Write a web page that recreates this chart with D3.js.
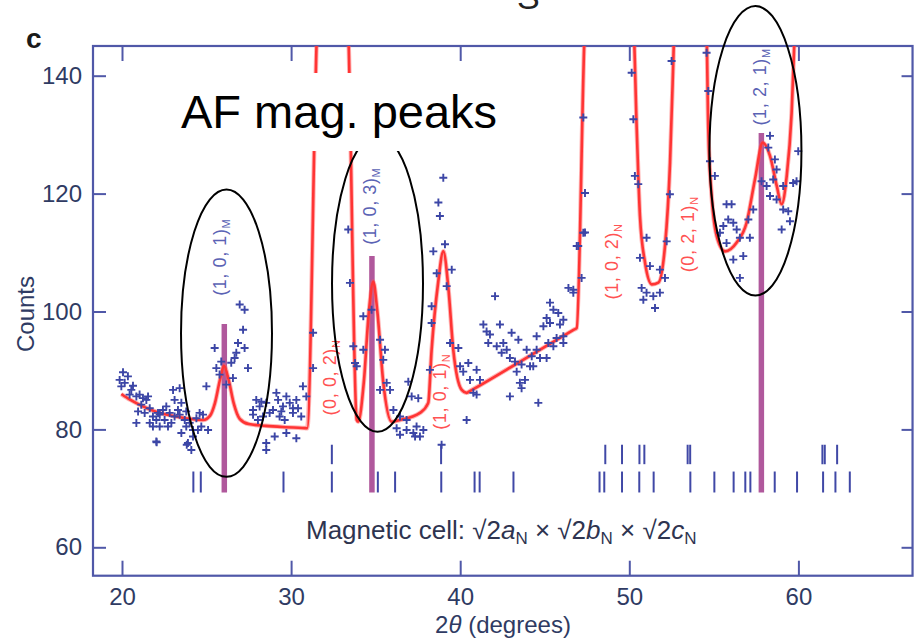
<!DOCTYPE html>
<html><head><meta charset="utf-8">
<script src="https://cdn.jsdelivr.net/npm/d3@7"></script>
<style>body{margin:0;background:#fff}svg{display:block}</style>
</head><body>
<svg id="c" width="914" height="642"></svg>
<script>
// ---------- data ----------
const xTickValues = [20, 30, 40, 50, 60];
const yTickValues = [60, 80, 100, 120, 140];

// observed counts (blue +)
const obsX = [20.06,20.35,19.86,20.16,19.96,20.55,20.45,20.85,21.24,21.44,21.14,21.64,20.95,21.34,21.83,22.03,21.64,20.85,22.23,22.72,21.83,22.42,22.82,23.02,23.41,23.11,23.51,23.31,22.62,22.13,23.71,23.51,24.0,24.2,24.59,24.79,24.99,25.09,24.49,23.9,24.1,22.03,23.11,
20.65,21.04,21.54,22.23,22.52,22.92,23.41,23.8,24.4,24.69,23.8,24.2,
25.48,25.87,25.58,26.66,26.76,26.86,27.25,27.16,27.25,26.96,27.45,26.56,26.17,26.46,25.77,
27.94,27.75,28.14,28.34,28.53,28.93,29.13,29.23,29.32,29.52,29.72,29.92,30.11,30.31,30.7,30.9,30.6,29.03,28.53,28.53,29.72,30.31,31.3,31.3,22.05,23.83,37.33,
27.75,28.04,28.73,29.42,30.11,30.41,29.62,28.24,
33.38,33.48,33.68,33.88,33.78,34.27,34.27,34.76,35.26,35.45,35.55,35.65,35.85,35.26,36.05,36.44,36.83,36.93,37.13,37.52,37.42,37.82,37.62,36.44,36.83,37.23,36.24,
38.21,38.31,38.31,38.41,38.61,39.1,38.8,38.71,39.0,39.5,39.2,39.4,39.89,39.99,40.18,40.48,40.58,40.97,40.78,41.17,40.97,40.38,38.9,
42.06,41.37,41.76,42.35,43.04,43.44,41.66,42.16,42.55,42.45,42.94,43.24,43.63,43.34,43.93,44.23,43.83,43.53,43.63,42.94,44.62,44.32,44.72,45.11,44.92,45.11,45.51,45.8,45.31,45.9,46.1,45.7,45.51,46.1,46.4,46.69,46.89,47.38,47.38,44.52,45.21,
41.56,42.75,44.13,45.31,44.52,46.1,
47.28,47.28,47.18,46.98,46.69,
50.14,50.24,50.33,50.53,51.02,50.63,51.22,51.81,52.11,50.73,51.02,51.42,51.81,51.52,50.83,52.21,52.4,52.5,
54.57,54.67,54.77,55.06,55.75,56.05,55.85,55.56,55.36,56.15,56.35,56.54,57.13,57.04,57.33,56.74,56.15,55.75,56.54,
58.32,58.22,58.61,58.71,58.51,57.82,58.12,58.32,58.71,59.1,59.4,59.69,59.89,59.99,59.5,59.01,59.1];
const obsY = [89.7,89.0,88.4,87.9,87.3,86.7,85.9,85.6,85.3,85.0,84.2,83.6,83.05,82.8,82.2,81.6,81.1,81.1,80.5,80.5,80.5,83.3,82.8,86.7,87.0,85.0,84.5,83.3,83.9,82.8,81.6,79.4,81.1,79.9,82.8,82.5,87.3,79.9,79.9,77.7,76.5,77.95,82.2,
87.4,85.9,85.6,82.5,81.6,81.1,82.5,83.05,81.9,80.5,80.5,78.8,
93.8,91.5,90.4,92.1,93.0,94.66,93.8,96.9,100.3,101.2,90.4,88.7,87.6,91.3,89.3,
85.0,83.3,83.9,82.2,84.5,83.3,86.2,85.0,82.2,83.9,85.6,84.5,83.6,85.0,87.3,85.6,82.2,78.8,77.7,76.5,79.4,78.5,90.4,96.4,77.8,77.4,78.8,
82.5,81.6,82.8,83.05,82.8,83.6,81.6,84.7,
113.9,104.85,94.1,90.7,91.26,99.2,93.5,100.3,95.2,91.8,93.5,87.9,86.7,86.7,83.3,82.2,81.6,88.1,85.6,85.3,80.5,79.9,78.8,79.1,79.9,79.4,80.2,
90.1,100.9,98.05,110.2,106.5,111.4,116.2,118.5,122.7,107.1,104.3,94.66,93.8,90.7,89.8,91.26,88.4,90.1,86.2,88.4,85.9,81.6,77.4,
102.6,97.8,96.1,97.8,96.4,95.2,94.66,94.1,94.66,93.0,92.1,91.5,91.0,89.8,93.5,92.4,88.4,87.9,87.0,85.6,84.5,90.7,92.1,92.1,97.5,98.9,100.3,99.75,101.5,97.8,98.6,95.5,94.1,94.66,104.0,103.2,111.1,113.4,120.1,95.8,94.66,
96.6,93.5,90.7,98.05,93.5,95.8,
132.9,113.35,105.7,111.1,103.7,
140.5,132.6,123.0,121.6,112.5,109.1,107.7,107.1,105.7,104.0,103.2,102.6,103.2,100.6,102.0,111.9,119.9,142.5,
143.9,137.4,125.5,123.0,118.2,118.2,115.6,114.5,113.35,115.05,113.9,112.5,112.5,115.6,117.3,109.4,108.8,111.6,105.7,
129.8,127.8,125.8,124.1,122.4,122.1,121.3,119.6,119.0,117.3,117.0,121.8,122.1,127.2,115.3,113.9,121.3];

// calculated profile (red line); values above 145 are off-scale
const fitX = [19.96,20.5,21.24,22.0,23.2,24.0,24.8,25.2,25.5,25.8,26.03,26.3,26.6,26.96,27.5,28.5,29.5,30.8,30.95,31.56,32.4,33.35,33.88,33.97,34.3,34.6,34.86,35.1,35.45,35.95,36.44,37.62,38.11,38.31,38.7,39.0,39.3,39.59,40.09,40.38,40.6,43.6,46.7,46.89,47.4,48.8,50.23,50.44,50.63,50.93,51.33,51.72,52.11,52.41,52.6,52.68,53.6,54.55,54.67,54.87,55.17,55.66,56.35,56.94,57.43,57.89,58.32,58.72,59.01,59.31,59.6,59.82];
const fitY = [86.0,85.0,83.9,83.0,82.2,81.8,81.6,82.3,84.5,88.5,90.8,88.5,84.5,81.8,80.9,80.6,80.4,80.22,80.2,150,175,150,81.6,81.3,88,100,105.1,100,88,81.3,81.6,82.8,84.5,93.5,105,110.2,104,93.5,86.7,86.2,86.55,91.6,96.88,97.2,150,175,150,130.9,116.2,108.3,104.6,104.9,111.1,125.3,142.3,150,175,150,130.9,119.6,112.8,110.2,111.7,115.1,122.4,128.65,126.4,121.3,118.2,123,133.7,150];

// magnetic reflections (purple bars)
const magPeakX = [26.05, 34.78, 57.81];
const magPeakTop = [97.9, 109.4, 130.3];
const magPeakLabels = ["(1, 0, 1)", "(1, 0, 3)", "(1, 2, 1)"];
const magLabelX = [25.8, 34.67, 57.73];
const magLabelY = [109.2, 117.85, 138.1];

// nuclear labels (red)
const nucLabels = ["(0, 0, 2)", "(1, 0, 1)", "(1, 0, 2)", "(0, 2, 1)"];
const nucLabelX = [32.3, 38.8, 48.98, 53.47];
const nucLabelY = [88.8, 86.4, 108.5, 113.1];

// Bragg reflection positions (two phases)
const braggRow1 = [32.41,38.87,48.58,49.57,50.6,50.89,53.45,53.6,61.42,61.56,62.29];
const braggRow2 = [24.22,24.66,29.55,32.41,35.13,36.15,38.88,40.85,41.15,43.15,48.24,48.52,49.57,50.59,51.44,53.61,55.03,56.17,56.86,57.16,58.6,59.92,61.46,62.19,63.04];
const braggRow1Range = [74.1, 77.4];
const braggRow2Range = [69.3, 72.85];

// highlighted regions (ellipses): centre and half-extent in data units
const ellCX = [26.18, 35.11, 57.46];
const ellCY = [96.33, 104.74, 127.26];
const ellRX = [2.69, 2.69, 2.72];
const ellRY = [24.38, 25.15, 24.55];

// ---------- drawing ----------
const FONT = "'Liberation Sans', Arial, Helvetica, sans-serif";
const AX = "#5058a8";
const svg = d3.select("#c");
const x = d3.scaleLinear().domain([20, 60]).range([122, 798.4]);
const y = d3.scaleLinear().domain([60, 140]).range([547.3, 75.7]);
const X0 = 18.285, X1 = 66.75, Y0 = 55.18, Y1 = 145.04;
const L = x(X0), R = x(X1), T = y(Y1), B = y(Y0);

svg.append("clipPath").attr("id", "plotclip").append("rect")
  .attr("x", L).attr("y", T).attr("width", R - L).attr("height", B - T);

// axes
function styleAxis(g) {
  g.select(".domain").remove();
  g.selectAll(".tick line").attr("stroke", AX).attr("stroke-width", 2);
  g.selectAll(".tick text").attr("fill", "#2f3b63").style("font-family", FONT).style("font-size", "24px");
}
svg.append("g").attr("transform", `translate(0,${B})`)
  .call(d3.axisBottom(x).tickValues(xTickValues).tickSize(-15).tickSizeOuter(0).tickPadding(12)).call(styleAxis);
svg.append("g").attr("transform", `translate(0,${T})`)
  .call(d3.axisTop(x).tickValues(xTickValues).tickSize(-15).tickSizeOuter(0).tickFormat("")).call(styleAxis);
svg.append("g").attr("transform", `translate(${L},0)`)
  .call(d3.axisLeft(y).tickValues(yTickValues).tickSize(-13).tickSizeOuter(0).tickPadding(11)).call(styleAxis);
svg.append("g").attr("transform", `translate(${R},0)`)
  .call(d3.axisRight(y).tickValues(yTickValues).tickSize(-11).tickSizeOuter(0).tickFormat("")).call(styleAxis);

svg.append("rect").attr("x", L).attr("y", T).attr("width", R - L).attr("height", B - T)
  .attr("fill", "none").attr("stroke", AX).attr("stroke-width", 2.2);

const plot = svg.append("g").attr("clip-path", "url(#plotclip)");

// Bragg ticks
plot.append("g").selectAll("line").data(braggRow1).join("line")
  .attr("x1", d => x(d)).attr("x2", d => x(d))
  .attr("y1", y(braggRow1Range[0])).attr("y2", y(braggRow1Range[1]))
  .attr("stroke", "#4048a6").attr("stroke-width", 2);
plot.append("g").selectAll("line").data(braggRow2).join("line")
  .attr("x1", d => x(d)).attr("x2", d => x(d))
  .attr("y1", y(braggRow2Range[0])).attr("y2", y(braggRow2Range[1]))
  .attr("stroke", "#4048a6").attr("stroke-width", 2);

// magnetic bars
plot.append("g").selectAll("line").data(magPeakX).join("line")
  .attr("x1", d => x(d)).attr("x2", d => x(d))
  .attr("y1", y(braggRow2Range[0])).attr("y2", (d, i) => y(magPeakTop[i]))
  .attr("stroke", "#b0589c").attr("stroke-width", 5.5);

// fit curve
const fitData = fitX.map((v, i) => [v, fitY[i]]);
const fitLine = d3.line().x(d => x(d[0])).y(d => y(d[1])).curve(d3.curveMonotoneX);
plot.append("path").datum(fitData).attr("d", fitLine)
  .attr("fill", "none").attr("stroke", "#ff5a5a").attr("stroke-width", 4.5).attr("stroke-opacity", 0.45)
  .attr("stroke-linejoin", "round");
plot.append("path").datum(fitData).attr("d", fitLine)
  .attr("fill", "none").attr("stroke", "#ff3434").attr("stroke-width", 2.6)
  .attr("stroke-linejoin", "round");

// observed points
const obs = obsX.map((v, i) => [v, obsY[i]]);
plot.append("g").selectAll("path").data(obs).join("path")
  .attr("transform", d => `translate(${x(d[0])},${y(d[1])})`)
  .attr("d", "M-4,0H4M0,-4V4")
  .attr("stroke", "#3c46a6").attr("stroke-width", 1.9).attr("fill", "none");

// nuclear labels
nucLabels.forEach((t, i) => {
  const tx = svg.append("text")
    .attr("transform", `translate(${x(nucLabelX[i])},${y(nucLabelY[i])}) rotate(-90)`)
    .attr("text-anchor", "middle").attr("dy", "0.35em")
    .attr("fill", "#ff5252").style("font-family", FONT).style("font-size", "18px").style("letter-spacing", "0.6px");
  tx.append("tspan").text(t);
  tx.append("tspan").attr("dy", "0.35em").style("font-size", "11px").text("N");
});
// magnetic labels
magPeakLabels.forEach((t, i) => {
  const tx = svg.append("text")
    .attr("transform", `translate(${x(magLabelX[i])},${y(magLabelY[i])}) rotate(-90)`)
    .attr("text-anchor", "middle").attr("dy", "0.35em")
    .attr("fill", "#5a62b4").style("font-family", FONT).style("font-size", "18px").style("letter-spacing", "0.6px");
  tx.append("tspan").text(t);
  tx.append("tspan").attr("dy", "0.35em").style("font-size", "11px").text("M");
});

// Magnetic cell note
const mc = svg.append("text").attr("x", 306).attr("y", 539)
  .attr("fill", "#2e3450").style("font-family", FONT).style("font-size", "26px");
mc.append("tspan").text("Magnetic cell: \u221A2");
mc.append("tspan").style("font-style", "italic").text("a");
mc.append("tspan").attr("dy", 5).style("font-size", "17px").text("N");
mc.append("tspan").attr("dy", -5).text(" \u00D7 \u221A2");
mc.append("tspan").style("font-style", "italic").text("b");
mc.append("tspan").attr("dy", 5).style("font-size", "17px").text("N");
mc.append("tspan").attr("dy", -5).text(" \u00D7 \u221A2");
mc.append("tspan").style("font-style", "italic").text("c");
mc.append("tspan").attr("dy", 5).style("font-size", "17px").text("N");

// ellipses
svg.append("g").selectAll("ellipse").data(ellCX).join("ellipse")
  .attr("cx", d => x(d)).attr("cy", (d, i) => y(ellCY[i]))
  .attr("rx", (d, i) => x(d + ellRX[i]) - x(d))
  .attr("ry", (d, i) => y(ellCY[i] - ellRY[i]) - y(ellCY[i]))
  .attr("fill", "none").attr("stroke", "#000").attr("stroke-width", 2);

// annotation text with white background
svg.append("rect").attr("x", 172).attr("y", 73).attr("width", 336).attr("height", 78).attr("fill", "#fff");
svg.append("text").attr("x", 181).attr("y", 128).attr("fill", "#000")
  .style("font-family", FONT).style("font-size", "47px").text("AF mag. peaks");

// axis titles and panel letter
svg.append("text").attr("transform", "translate(34,314) rotate(-90)").attr("text-anchor", "middle")
  .attr("fill", "#2f3b63").style("font-family", FONT).style("font-size", "24px").text("Counts");
const xl = svg.append("text").attr("x", 503).attr("y", 633).attr("text-anchor", "middle")
  .attr("fill", "#2f3b63").style("font-family", FONT).style("font-size", "24px");
xl.append("tspan").text("2");
xl.append("tspan").style("font-style", "italic").text("\u03B8");
xl.append("tspan").text(" (degrees)");
svg.append("text").attr("x", 26).attr("y", 48).attr("fill", "#1a1a1a")
  .style("font-family", FONT).style("font-size", "28px").style("font-weight", "bold").text("c");
svg.append("text").attr("x", 517).attr("y", 9).attr("fill", "#222")
  .style("font-family", FONT).style("font-size", "34px").text("S");
</script>
</body></html>
